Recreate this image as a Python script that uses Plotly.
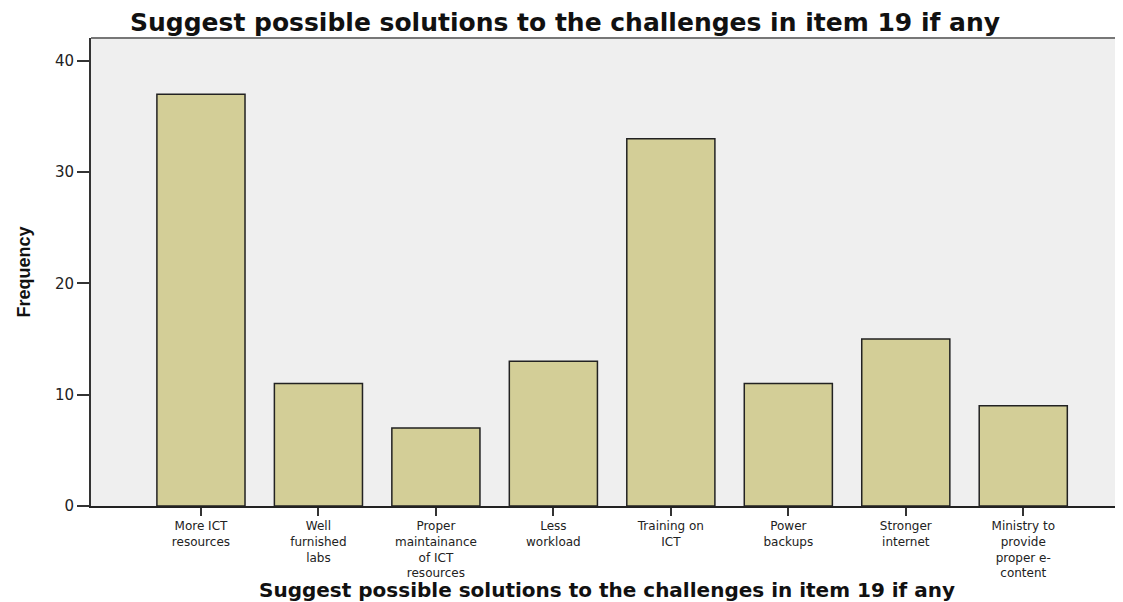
import plotly.graph_objects as go

categories = ["More ICT<br>resources", "Well<br>furnished<br>labs",
              "Proper<br>maintainance<br>of ICT<br>resources", "Less<br>workload",
              "Training on<br>ICT", "Power<br>backups", "Stronger<br>internet",
              "Ministry to<br>provide<br>proper e-<br>content"]
frequency = [37, 11, 7, 13, 33, 11, 15, 9]
y_ticks = [0, 10, 20, 30, 40]

title_text = "Suggest possible solutions to the challenges in item 19 if any"

# The page body adds an 8px offset, so the figure is 8px smaller than the window.
W, H = 1115, 594
L, T, B = 83, 30, 96
plot_h = H - T - B

fig = go.Figure(go.Bar(
    x=list(range(len(categories))), y=frequency,
    width=0.75,
    marker=dict(color="#D3CE97", line=dict(color="#222222", width=1.5)),
))

fig.update_layout(
    width=W, height=H,
    margin=dict(l=L, r=0, t=T, b=B),
    paper_bgcolor="white", plot_bgcolor="#EFEFEF",
    showlegend=False,
    title=dict(text=title_text, x=557 / W, xanchor="center", y=1 - 14 / H, yanchor="middle",
               font=dict(family="DejaVu Sans", size=25, color="#111111", weight="bold")),
    font=dict(family="DejaVu Sans", size=12, color="#222222"),
)
fig.update_xaxes(
    range=[-0.936, 7.849], tickmode="array", automargin=False,
    tickvals=list(range(len(categories))), ticktext=categories,
    ticks="outside", ticklen=8, tickwidth=2, tickcolor="#333333",
    showline=True, linecolor="#222222", linewidth=2,
    showgrid=False, zeroline=False,
    tickfont=dict(family="DejaVu Sans", size=12, color="#222222"),
)
fig.update_yaxes(
    range=[0, 42.05], tickmode="array", tickvals=y_ticks, automargin=False,
    ticks="outside", ticklen=12, tickwidth=2, tickcolor="#333333",
    showline=True, linecolor="#333333", linewidth=2,
    showgrid=False, zeroline=False,
    tickfont=dict(family="DejaVu Sans", size=15, color="#222222"),
    title=dict(text="Frequency", standoff=20,
               font=dict(family="Liberation Sans, Arial", size=18,
                         color="#111111", weight="bold")),
)
fig.add_annotation(text=title_text, xref="paper", yref="paper",
                   x=0.5, y=-(582 - (H - B)) / plot_h,
                   xanchor="center", yanchor="middle", showarrow=False,
                   font=dict(family="DejaVu Sans", size=20, color="#111111", weight="bold"))
fig.add_shape(type="line", xref="paper", yref="paper", x0=0, x1=1, y0=1, y1=1,
              line=dict(color="#777777", width=2))

fig.write_html("out.html")
